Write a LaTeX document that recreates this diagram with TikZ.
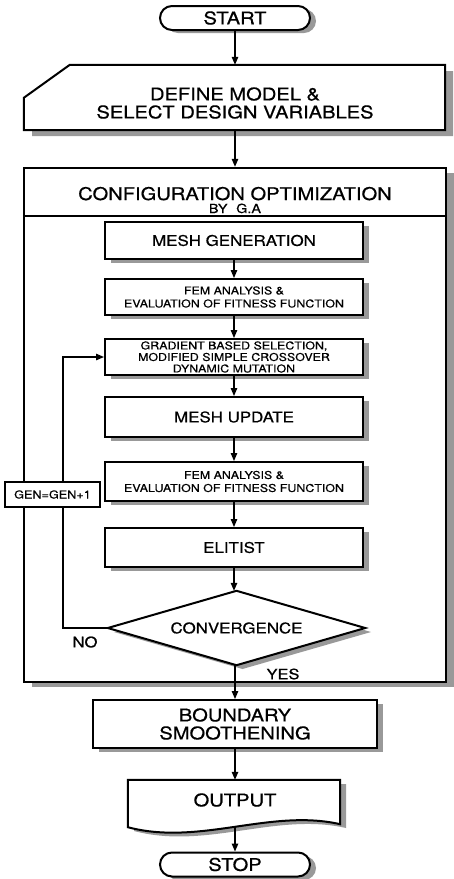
\documentclass[tikz,border=0pt]{standalone}
\usepackage{fontspec}
\setmainfont[FakeStretch=1.15,FakeBold=0.6]{TeX Gyre Heros}
\usetikzlibrary{arrows.meta}
\newcommand\bigtxt{\fontsize{17.5pt}{18pt}\selectfont}
\newcommand\midtxt{\fontsize{14.7pt}{16pt}\selectfont}
\newcommand\smtxt{\fontsize{10.8pt}{13pt}\selectfont}
\newcommand\gatxt{\fontsize{10.8pt}{11.5pt}\selectfont}
\definecolor{shadowgray}{gray}{0.6}
\tikzset{
  shadowfill/.style={fill=shadowgray, draw=none},
  box/.style={draw, line width=2pt, fill=white, rectangle, inner sep=0pt, align=center},
  term/.style={box, rounded corners=12pt, minimum width=150pt, minimum height=24pt, font=\bigtxt},
  inner/.style={box, minimum width=258pt},
  holder/.style={inner sep=0pt, align=center},
  outline/.style={line width=2pt, fill=white},
  arr/.style={line width=1.3pt, -{Triangle[length=8pt,width=6.5pt]}},
}
\begin{document}
\begin{tikzpicture}[x=1pt,y=-1pt]
\useasboundingbox (0,0) rectangle (454,879);

% START
\fill[shadowfill, rounded corners=12pt] (166,9) rectangle (316,33);
\node[term] (start) at (235,18) {START};

% DEFINE (manual input)
\fill[shadowfill] (32,136) -- (32,104) -- (78,71) -- (453,71) -- (453,136) -- cycle;
\node[holder, minimum width=421pt, minimum height=65pt] (define) at (234.5,97.5) {};
\draw[outline] (define.south west) -- ([yshift=-33pt]define.north west) -- ([xshift=46pt]define.north west) -- (define.north east) -- (define.south east) -- cycle;
\node[holder, font=\bigtxt] (definetxt) at (235,103) {DEFINE MODEL \&\\SELECT DESIGN VARIABLES};

% OUTER BOX
\fill[shadowfill] (32,173) rectangle (454,687);
\node[draw, line width=2.4pt, fill=white, minimum width=422pt, minimum height=514pt, inner sep=0pt] (outer) at (235,425) {};
\draw[line width=2.4pt] ([yshift=-49pt]outer.north west) -- ([yshift=-49pt]outer.north east);
\node[anchor=base, font=\bigtxt, inner sep=0pt] (title1) at (235,200) {CONFIGURATION OPTIMIZATION};
\node[anchor=base, font=\fontsize{12.5pt}{14pt}\selectfont, inner sep=0pt] (title2) at (235,213) {BY\hspace{0.7em}G.A};

% inner step shadows (boxes x 105..363)
\fill[shadowfill] (111,226) rectangle (369,263);
\fill[shadowfill] (111,283) rectangle (369,319);
\fill[shadowfill] (111,343) rectangle (369,379);
\fill[shadowfill] (111,401) rectangle (369,441);
\fill[shadowfill] (111,466) rectangle (369,505);
\fill[shadowfill] (111,532) rectangle (369,571);
\fill[shadowfill] (242.5,595) -- (371,632) -- (242.5,669) -- (114,632) -- cycle;

% inner steps
\node[inner, minimum height=37pt, font=\midtxt] (mg) at (234,240.5) {MESH GENERATION};
\node[inner, minimum height=36pt, font=\smtxt] (fem1) at (234,297) {FEM ANALYSIS \&\\EVALUATION OF FITNESS FUNCTION};
\node[inner, minimum height=36pt, font=\gatxt] (ga) at (234,357) {GRADIENT BASED SELECTION,\\MODIFIED SIMPLE CROSSOVER\\DYNAMIC MUTATION};
\node[inner, minimum height=40pt, font=\midtxt] (mu) at (234,417) {MESH UPDATE};
\node[inner, minimum height=39pt, font=\smtxt] (fem2) at (234,481.5) {FEM ANALYSIS \&\\EVALUATION OF FITNESS FUNCTION};
\node[inner, minimum height=39pt, font=\midtxt] (el) at (234,547.5) {ELITIST};
\node[holder, minimum width=257pt, minimum height=74pt] (conv) at (236.5,628) {};
\draw[outline] (conv.north) -- (conv.east) -- (conv.south) -- (conv.west) -- cycle;
\node[holder, font=\midtxt] (convtxt) at (236.5,628) {CONVERGENCE};

\draw[arr] (mg) -- (fem1);
\draw[arr] (fem1) -- (ga);
\draw[arr] (ga) -- (mu);
\draw[arr] (mu) -- (fem2);
\draw[arr] (fem2) -- (el);
\draw[arr] (el.south) -- (el.south |- conv.north);

% loop
\coordinate (loopx) at (63,0);
\draw[arr] (conv.west) -| (loopx |- ga.west) -- (ga.west);
\node[draw, line width=2pt, fill=white, minimum width=95pt, minimum height=25pt, inner sep=0pt, font=\fontsize{11pt}{12pt}\selectfont] (gen) at (52.5,494.5) {GEN=GEN+1};
\node[font=\fontsize{14.5pt}{15pt}\selectfont, inner sep=0pt] (no) at (85,642) {NO};
\node[font=\fontsize{14.3pt}{15pt}\selectfont, inner sep=0pt] (yes) at (283,674) {YES};

% after loop
\fill[shadowfill] (99,704) -- (383,704) -- (383,752) -- (99,752) -- cycle;
\node[box, minimum width=284pt, minimum height=48pt, font=\bigtxt] (bs) at (235,724) {BOUNDARY\\SMOOTHENING};
\draw[arr] (conv.south -| bs.north) -- (bs.north);

% OUTPUT (document)
\fill[shadowfill] (134,784) -- (346,784) -- (346,828) .. controls (276,812) and (206,850) .. (134,831) -- cycle;
\node[holder, minimum width=212pt, minimum height=46pt] (out) at (234,803) {};
\draw[outline] (out.north west) -- (out.north east) -- ([yshift=2pt]out.south east) .. controls +(-70,-16) and +(72,19) .. ([yshift=-1pt]out.south west) -- cycle;
\node[holder, font=\bigtxt] (outtxt) at (235,800) {OUTPUT};

\fill[shadowfill, rounded corners=12pt] (166,856) rectangle (316,880);
\node[term] (stop) at (235,864.5) {STOP};

\draw[arr] (start) -- (define.north -| start.south);
\draw[arr] (define.south -| start.south) -- (outer.north -| start.south);
\draw[arr] (bs.south) -- (out.north -| bs.south);
\draw[arr] (out.south -| stop.north) -- (stop.north);
\end{tikzpicture}
\end{document}
